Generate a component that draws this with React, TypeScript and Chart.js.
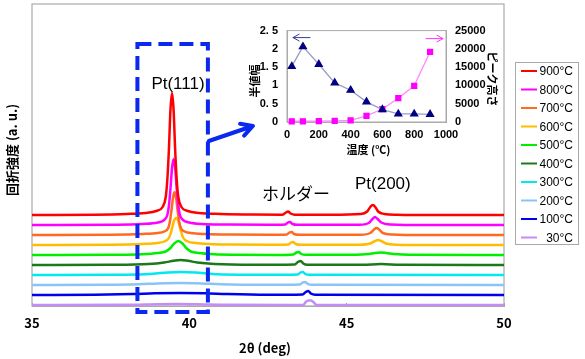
import React, { useEffect, useRef } from "react";
import { Chart, registerables } from "chart.js";
Chart.register(...registerables);

// ---------- main XRD chart data ----------
const labels = ["900°C", "800°C", "700°C", "600°C", "500°C", "400°C", "300°C", "200°C", "100°C", "30°C"];
const colors = ["#ff0000", "#ff00ff", "#ff6a20", "#ffbb00", "#00ee00", "#1a7a1a", "#00e8f0", "#88c4f8", "#0000ee", "#c58cf5"];
const offsets = [90, 80, 70, 60, 50, 40, 30, 20, 10, 0];
const xTicks = [35, 40, 45, 50];

const x900 = [35, 37, 38, 38.6, 38.95, 39.15, 39.25, 39.3, 39.35, 39.4, 39.45, 39.5, 39.55, 39.6, 39.65, 39.75, 39.95, 40.3, 41, 42, 42.95, 43.07, 43.14, 43.22, 43.35, 44.5, 45.45, 45.65, 45.75, 45.83, 45.91, 46.0, 46.2, 46.6, 48, 50];
const y900 = [0, 0.3, 1, 2, 4, 8, 18, 35, 65, 105, 122, 105, 65, 35, 18, 8, 4, 2, 1, 0.4, 0.3, 2.5, 3.5, 1.5, 0.3, 0.2, 1, 3.5, 8, 10, 8, 3.5, 1, 0.3, 0, 0];
const x800 = [35, 37.5, 38.5, 39.0, 39.2, 39.3, 39.35, 39.4, 39.45, 39.5, 39.55, 39.6, 39.65, 39.7, 39.8, 40.0, 40.4, 41.2, 42.5, 43.05, 43.13, 43.2, 43.28, 43.45, 45.4, 45.7, 45.82, 45.9, 45.98, 46.1, 46.4, 47.5, 50];
const y800 = [0, 0.3, 1, 2.5, 5, 10, 19, 36, 57, 66, 57, 36, 19, 10, 5, 2.5, 1, 0.5, 0.2, 0.5, 2.5, 3, 1, 0.2, 0.3, 2, 6, 8, 6, 2.5, 0.5, 0, 0];
const x700 = [35, 37.5, 38.5, 39.0, 39.2, 39.33, 39.38, 39.43, 39.48, 39.53, 39.58, 39.63, 39.68, 39.73, 39.85, 40.05, 40.5, 41.3, 42.5, 43.1, 43.18, 43.25, 43.33, 43.5, 45.45, 45.75, 45.87, 45.95, 46.03, 46.15, 46.45, 47.5, 50];
const y700 = [0, 0.3, 1, 2, 3.5, 7, 13, 24, 37, 43, 37, 24, 13, 7, 3.5, 2, 1, 0.4, 0.2, 0.5, 2.5, 3, 1, 0.2, 0.3, 2, 5.5, 7, 5.5, 2, 0.5, 0, 0];
const x600 = [35, 37.5, 38.5, 39.0, 39.2, 39.35, 39.43, 39.5, 39.58, 39.66, 39.73, 39.81, 39.95, 40.2, 40.6, 41.4, 42.5, 43.15, 43.23, 43.3, 43.38, 43.55, 45.4, 45.75, 45.9, 46.0, 46.1, 46.25, 46.6, 47.5, 50];
const y600 = [0, 0.3, 1, 2, 3.5, 7, 14, 23, 27, 23, 14, 7, 3.5, 2, 1, 0.4, 0.2, 0.5, 2.5, 3, 1, 0.2, 0.3, 1.5, 4, 5, 4, 1.5, 0.3, 0, 0];
const x500 = [35, 37.5, 38.5, 39.0, 39.25, 39.4, 39.52, 39.65, 39.78, 39.9, 40.05, 40.3, 40.8, 41.5, 42.8, 43.3, 43.4, 43.48, 43.56, 43.7, 45.3, 45.7, 45.9, 46.08, 46.25, 46.5, 47, 50];
const y500 = [0, 0.3, 0.8, 2, 3.5, 7, 11.5, 14, 11.5, 7, 3.5, 2, 0.8, 0.3, 0, 0.5, 2.5, 3, 1, 0.2, 0.2, 1, 2, 2.5, 2, 1, 0.2, 0];
const x400 = [35, 37.5, 38.7, 39.2, 39.5, 39.72, 39.95, 40.25, 40.8, 42, 43.35, 43.45, 43.54, 43.62, 43.75, 45.5, 46.1, 46.7, 50];
const y400 = [0, 0.2, 1, 2.5, 4.2, 5, 4.2, 2.5, 1, 0.2, 0.5, 3, 4, 1.5, 0.2, 0.2, 1, 0.2, 0];
const x300 = [35, 37.5, 38.6, 39.2, 39.75, 40.3, 40.9, 42.5, 43.45, 43.53, 43.6, 43.68, 43.8, 50];
const y300 = [0, 0.2, 0.8, 2.2, 3, 2.2, 0.8, 0.2, 0.5, 2.5, 3, 1.2, 0.2, 0];
const x200 = [35, 37.3, 38.4, 39.0, 39.7, 40.4, 41.0, 42.3, 43.52, 43.6, 43.68, 43.76, 43.9, 50];
const y200 = [0, 0.2, 0.8, 1.6, 2, 1.6, 0.8, 0.2, 0.5, 2.5, 3, 1.2, 0.2, 0];
const x100 = [35, 37, 38.2, 38.9, 39.7, 40.5, 41.2, 42.5, 43.6, 43.7, 43.78, 43.86, 44.0, 50];
const y100 = [0, 0.2, 0.9, 1.7, 2, 1.7, 0.9, 0.2, 0.5, 3, 4, 1.5, 0.2, 0];
const x30 = [35, 38, 39.0, 39.6, 40.2, 41.2, 43.62, 43.7, 43.78, 43.86, 43.94, 44.05, 50];
const y30 = [0, 0.2, 0.8, 1, 0.8, 0.2, 0, 3, 4.5, 4.5, 3, 0, 0];

const curveX = [x900, x800, x700, x600, x500, x400, x300, x200, x100, x30];
const curveY = [y900, y800, y700, y600, y500, y400, y300, y200, y100, y30];

// ---------- inset data ----------
const insetTemps = [30, 100, 200, 300, 400, 500, 600, 700, 800, 900];
const fwhm = [1.52, 2.06, 1.58, 1.07, 0.87, 0.55, 0.34, 0.22, 0.22, 0.21];
const peakHeight = [200, 200, 220, 300, 450, 1700, 3550, 6500, 9900, 19200];

const JP = "'Noto Sans CJK JP', sans-serif";
const LAT = "'Liberation Sans', Arial, sans-serif";

function drawArrowLine(ctx: CanvasRenderingContext2D, x1: number, y1: number, x2: number, y2: number, head: number, color: string, width: number) {
  const ang = Math.atan2(y2 - y1, x2 - x1);
  ctx.save();
  ctx.strokeStyle = color;
  ctx.lineWidth = width;
  ctx.lineCap = "round";
  ctx.lineJoin = "round";
  ctx.beginPath();
  ctx.moveTo(x1, y1);
  ctx.lineTo(x2, y2);
  ctx.moveTo(x2 - head * Math.cos(ang - 0.5), y2 - head * Math.sin(ang - 0.5));
  ctx.lineTo(x2, y2);
  ctx.lineTo(x2 - head * Math.cos(ang + 0.5), y2 - head * Math.sin(ang + 0.5));
  ctx.stroke();
  ctx.restore();
}

function rotText(ctx: CanvasRenderingContext2D, text: string, x: number, y: number, rot: number, font: string) {
  ctx.save();
  ctx.translate(x, y);
  ctx.rotate(rot);
  ctx.font = font;
  ctx.fillStyle = "#000";
  ctx.textAlign = "center";
  ctx.textBaseline = "middle";
  ctx.fillText(text, 0, 0);
  ctx.restore();
}

const mainDecor = {
  id: "mainDecor",
  beforeDatasetsDraw(chart: any) {
    const { ctx, chartArea: a } = chart;
    ctx.save();
    ctx.strokeStyle = "#ababab";
    ctx.lineWidth = 1.2;
    ctx.strokeRect(a.left, a.top, a.right - a.left, a.bottom - a.top);
    ctx.restore();
  },
  afterDraw(chart: any) {
    const { ctx, chartArea: a } = chart;
    const xs = chart.scales.x;
    const ys = chart.scales.y;
    // dashed box
    ctx.save();
    ctx.strokeStyle = "#0a28f0";
    ctx.lineWidth = 4;
    ctx.setLineDash([14, 7]);
    const bx1 = xs.getPixelForValue(38.35);
    const bx2 = xs.getPixelForValue(40.59);
    ctx.strokeRect(bx1, a.top + 40, bx2 - bx1, a.bottom - a.top - 34);
    ctx.restore();
    // arrow
    drawArrowLine(ctx, xs.getPixelForValue(40.62), ys.getPixelForValue(164), xs.getPixelForValue(42.02), ys.getPixelForValue(179), 13, "#0a28f0", 4);
    // peak labels
    ctx.save();
    ctx.fillStyle = "#000";
    ctx.textAlign = "center";
    ctx.textBaseline = "middle";
    ctx.font = "17px " + LAT;
    ctx.fillText("Pt(111)", xs.getPixelForValue(39.64), ys.getPixelForValue(221));
    ctx.fillText("Pt(200)", xs.getPixelForValue(46.15), ys.getPixelForValue(121));
    ctx.font = "17px " + JP;
    ctx.fillText("ホルダー", xs.getPixelForValue(43.39), ys.getPixelForValue(111));
    ctx.restore();
    // axis titles
    rotText(ctx, "回折強度 (a. u.)", 12.5, 150, -Math.PI / 2, "bold 13px " + JP);
    rotText(ctx, "2θ (deg)", (a.left + a.right) / 2 - 3, 348, 0, "bold 13px " + JP);
    // legend
    ctx.save();
    const lx1 = 515, ly1 = 62, lx2 = 578, ly2 = 244;
    ctx.fillStyle = "#fff";
    ctx.fillRect(lx1, ly1, lx2 - lx1, ly2 - ly1);
    ctx.strokeStyle = "#a8a8a8";
    ctx.lineWidth = 1;
    ctx.strokeRect(lx1 + 0.5, ly1 + 0.5, lx2 - lx1, ly2 - ly1);
    ctx.font = "12px " + LAT;
    ctx.textAlign = "right";
    ctx.textBaseline = "middle";
    chart.data.datasets.forEach((ds: any, i: number) => {
      const y = 71 + i * 18.5;
      ctx.strokeStyle = ds.borderColor;
      ctx.lineWidth = 2;
      ctx.beginPath();
      ctx.moveTo(521, y);
      ctx.lineTo(537, y);
      ctx.stroke();
      ctx.fillStyle = "#000";
      ctx.fillText(ds.label, 573, y + 1);
    });
    ctx.restore();
  },
};

const insetDecor = {
  id: "insetDecor",
  beforeDatasetsDraw(chart: any) {
    const { ctx, chartArea: a } = chart;
    ctx.save();
    ctx.strokeStyle = "#ababab";
    ctx.lineWidth = 1;
    ctx.strokeRect(a.left, a.top, a.right - a.left, a.bottom - a.top);
    ctx.restore();
  },
  afterDraw(chart: any) {
    const { ctx, chartArea: a } = chart;
    rotText(ctx, "半値幅", 15, 66, -Math.PI / 2, "bold 11px " + JP);
    rotText(ctx, "ピーク高さ", 252, 64, Math.PI / 2, "bold 11px " + JP);
    rotText(ctx, "温度 (℃)", (a.left + a.right) / 2 + 2, 135, 0, "bold 11px " + JP);
    drawArrowLine(ctx, a.left + 23, a.top + 7, a.left + 6, a.top + 7, 7, "#3a3a98", 1);
    drawArrowLine(ctx, a.right - 20, a.top + 8, a.right - 3, a.top + 8, 7, "#ff33ff", 1);
  },
};

export default function App() {
  const mainRef = useRef<HTMLCanvasElement | null>(null);
  const insetRef = useRef<HTMLCanvasElement | null>(null);

  useEffect(() => {
    document.body.style.margin = "0";
    const datasets = labels.map((lab, i) => ({
      label: lab,
      data: curveX[i].map((x, j) => ({ x, y: curveY[i][j] + offsets[i] })),
      borderColor: colors[i],
      backgroundColor: colors[i],
      borderWidth: 2.5,
      pointRadius: 0,
      cubicInterpolationMode: "monotone" as const,
    }));
    const main = new Chart(mainRef.current!, {
      type: "line",
      data: { datasets },
      options: {
        responsive: false,
        animation: false,
        layout: { padding: { left: 32, right: 81, top: 4, bottom: 0 } },
        plugins: { legend: { display: false }, tooltip: { enabled: false } },
        scales: {
          x: {
            type: "linear",
            min: 35,
            max: 50,
            afterFit: (s: any) => { s.height = 53; },
            afterBuildTicks: (s: any) => { s.ticks = xTicks.map((v) => ({ value: v })); },
            ticks: { padding: 12, color: "#000", maxRotation: 0, minRotation: 0, font: { size: 13, weight: "bold", family: JP } },
            grid: { drawOnChartArea: false, drawTicks: true, tickLength: -3, color: "#9a9a9a" },
            border: { color: "#ababab" },
          },
          y: { display: false, min: -1, max: 301 },
        },
      },
      plugins: [mainDecor],
    });

    const inset = new Chart(insetRef.current!, {
      type: "line",
      data: {
        datasets: [
          {
            label: "半値幅",
            data: insetTemps.map((t, i) => ({ x: t, y: fwhm[i] })),
            yAxisID: "y",
            borderColor: "#9a9ac8",
            borderWidth: 1.3,
            pointStyle: "triangle",
            pointRadius: 4,
            pointBackgroundColor: "#000080",
            pointBorderColor: "#000080",
            clip: false,
          },
          {
            label: "ピーク高さ",
            data: insetTemps.map((t, i) => ({ x: t, y: peakHeight[i] })),
            yAxisID: "y1",
            borderColor: "#ff88ff",
            borderWidth: 1.3,
            pointStyle: "rect",
            pointRadius: 3.5,
            pointBackgroundColor: "#ff00ff",
            pointBorderColor: "#ff00ff",
            clip: false,
          },
        ],
      },
      options: {
        responsive: false,
        animation: false,
        layout: { padding: { left: 0, right: 0, top: 13, bottom: 0 } },
        plugins: { legend: { display: false }, tooltip: { enabled: false } },
        scales: {
          x: {
            type: "linear",
            min: 0,
            max: 1000,
            afterFit: (s: any) => { s.height = 38; },
            ticks: {
              stepSize: 200,
              padding: 6,
              color: "#000",
              maxRotation: 0,
              minRotation: 0,
              autoSkip: false,
              font: { size: 11, weight: "bold", family: LAT },
              callback: (v: any) => String(v),
            },
            grid: { display: false, drawTicks: false },
            border: { color: "#ababab" },
          },
          y: {
            position: "left",
            min: 0,
            max: 2.5,
            afterFit: (s: any) => { s.width = 47; },
            ticks: {
              stepSize: 0.5,
              padding: 9,
              color: "#000",
              font: { size: 11, weight: "bold", family: LAT },
              callback: (v: any) => (Number.isInteger(v) ? String(v) : Number(v).toFixed(1).replace(".", ". ")),
            },
            grid: { display: false, drawTicks: false },
            border: { color: "#ababab" },
          },
          y1: {
            position: "right",
            min: 0,
            max: 25000,
            afterFit: (s: any) => { s.width = 59; },
            ticks: {
              stepSize: 5000,
              padding: 9,
              color: "#000",
              font: { size: 11, weight: "bold", family: LAT },
              callback: (v: any) => String(v),
            },
            grid: { display: false, drawTicks: false },
            border: { color: "#ababab" },
          },
        },
      },
      plugins: [insetDecor],
    });

    return () => {
      main.destroy();
      inset.destroy();
    };
  }, []);

  return (
    <div style={{ position: "relative", width: 585, height: 359, background: "#fff" }}>
      <canvas ref={mainRef} width={585} height={359} style={{ position: "absolute", left: 0, top: 0 }} />
      <canvas ref={insetRef} width={265} height={145} style={{ position: "absolute", left: 240, top: 15 }} />
    </div>
  );
}
